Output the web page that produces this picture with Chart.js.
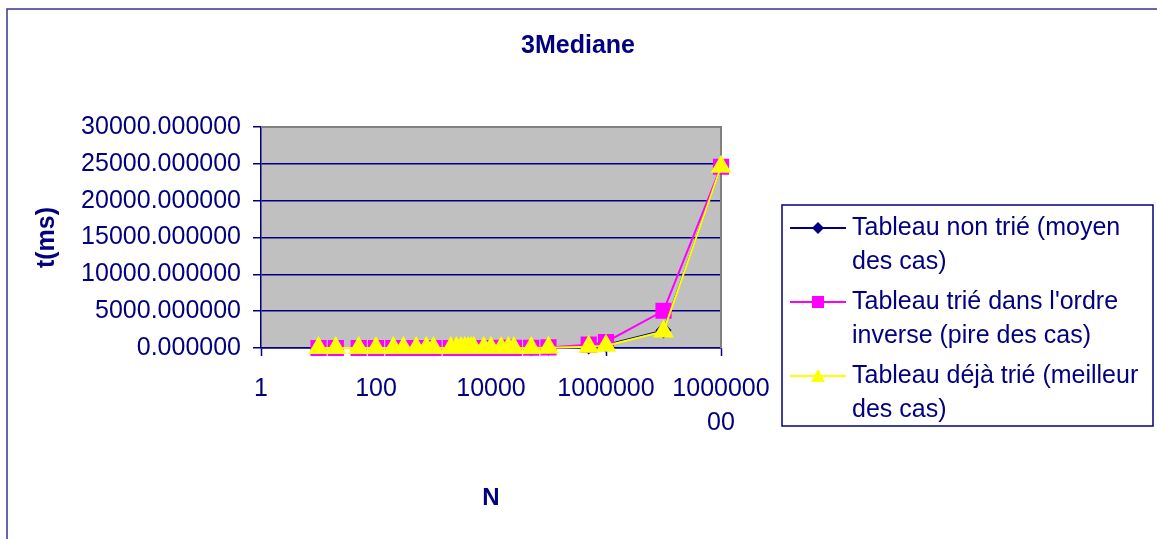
<!DOCTYPE html>
<html>
<head>
<meta charset="utf-8">
<title>3Mediane</title>
<script src="https://cdn.jsdelivr.net/npm/chart.js@4.4.0/dist/chart.umd.min.js"></script>
<style>
  body { margin: 0; background: #ffffff; }
  #zone { width: 1157px; height: 539px; }
  canvas { background: #ffffff; }
</style>
</head>
<body>
<div id="zone"><canvas id="graphique" width="1157" height="539"></canvas></div>
<script>
// tailles des tableaux (N)
const tailles = [10, 20, 50, 100, 200, 300, 500, 750, 1000, 2000, 2500, 3000, 3500, 4000, 4500, 5000,
  7500, 10000, 15000, 20000, 25000, 50000, 100000, 500000, 1000000, 10000000, 100000000];

// temps en ms
const tempsMoyen = [0.003, 0.005, 0.012, 0.025, 0.05, 0.08, 0.13, 0.2, 0.27, 0.58, 0.74, 0.9, 1.05, 1.22, 1.38, 1.55,
  2.4, 3.3, 5.1, 7.0, 8.9, 18.5, 39, 215, 460, 2400, 24600];
const tempsPire = [0.004, 0.008, 0.02, 0.04, 0.09, 0.14, 0.25, 0.38, 0.5, 1.1, 1.4, 1.7, 2.0, 2.3, 2.6, 2.9,
  4.5, 6.2, 9.6, 13, 17, 36, 78, 450, 820, 5050, 24600];
const tempsMeilleur = [0.002, 0.004, 0.009, 0.018, 0.04, 0.06, 0.1, 0.15, 0.2, 0.43, 0.55, 0.66, 0.78, 0.9, 1.02, 1.14,
  1.75, 2.4, 3.7, 5.1, 6.5, 13.6, 29, 160, 300, 2250, 24600];

const ticksX = [1, 100, 10000, 1000000, 100000000];
const ticksY = [0, 5000, 10000, 15000, 20000, 25000, 30000];

const titre = "3Mediane";
const nomsSeries = [
  ["Tableau non trié (moyen", "des cas)"],
  ["Tableau trié dans l'ordre", "inverse (pire des cas)"],
  ["Tableau déjà trié (meilleur", "des cas)"]
];

const marine = "#000080";
const police = "'Liberation Sans', Arial, sans-serif";

const points = (valeurs) => tailles.map((n, i) => ({ x: n, y: valeurs[i] }));

// fond gris, cadre, titre, légende
const decor = {
  id: "decor",
  beforeDraw(chart) {
    const ctx = chart.ctx;
    const a = chart.chartArea;
    ctx.save();
    ctx.strokeStyle = "#34349a";
    ctx.lineWidth = 1.5;
    ctx.strokeRect(7, 9, 1170, 560);
    ctx.fillStyle = "#c0c0c0";
    ctx.fillRect(a.left, a.top, a.right - a.left, a.bottom - a.top);
    ctx.fillStyle = marine;
    ctx.font = "bold 25px " + police;
    ctx.textAlign = "center";
    ctx.textBaseline = "middle";
    ctx.fillText(titre, 578, 46);
    ctx.restore();
  },
  beforeDatasetsDraw(chart) {
    const ctx = chart.ctx;
    const a = chart.chartArea;
    ctx.save();
    ctx.strokeStyle = "#808080";
    ctx.lineWidth = 2;
    ctx.beginPath();
    ctx.moveTo(a.left, a.top);
    ctx.lineTo(a.right, a.top);
    ctx.lineTo(a.right, a.bottom);
    ctx.stroke();
    ctx.restore();
  },
  afterDraw(chart) {
    const ctx = chart.ctx;
    ctx.save();
    ctx.strokeStyle = marine;
    ctx.lineWidth = 1.5;
    ctx.strokeRect(782, 205, 371, 221);
    chart.data.datasets.forEach((ds, i) => {
      const y = 228 + i * 74;
      ctx.strokeStyle = ds.borderColor;
      ctx.lineWidth = 2;
      ctx.beginPath();
      ctx.moveTo(790, y);
      ctx.lineTo(846, y);
      ctx.stroke();
      ctx.fillStyle = ds.pointBackgroundColor;
      ctx.beginPath();
      if (ds.pointStyle === "rectRot") {
        ctx.moveTo(818, y - 6); ctx.lineTo(824, y); ctx.lineTo(818, y + 6); ctx.lineTo(812, y);
      } else if (ds.pointStyle === "rect") {
        ctx.rect(812, y - 6, 12, 12);
      } else {
        ctx.moveTo(818, y - 7); ctx.lineTo(825, y + 6); ctx.lineTo(811, y + 6);
      }
      ctx.closePath();
      ctx.fill();
      ctx.fillStyle = marine;
      ctx.font = "25px " + police;
      ctx.textBaseline = "middle";
      nomsSeries[i].forEach((ligne, k) => ctx.fillText(ligne, 852, y + k * 34));
    });
    ctx.restore();
  }
};

const graf = new Chart(document.querySelector("#graphique"), {
  type: "line",
  data: {
    datasets: [
      {
        label: nomsSeries[0].join(" "),
        data: points(tempsMoyen),
        borderColor: marine, backgroundColor: marine,
        pointBackgroundColor: marine, pointBorderColor: marine,
        pointStyle: "rectRot", pointRadius: 7, borderWidth: 1.5, order: 2, clip: false
      },
      {
        label: nomsSeries[1].join(" "),
        data: points(tempsPire),
        borderColor: "#ff00ff", backgroundColor: "#ff00ff",
        pointBackgroundColor: "#ff00ff", pointBorderColor: "#ff00ff",
        pointStyle: "rect", pointRadius: 10, borderWidth: 2, order: 1, clip: false
      },
      {
        label: nomsSeries[2].join(" "),
        data: points(tempsMeilleur),
        borderColor: "#ffff00", backgroundColor: "#ffff00",
        pointBackgroundColor: "#ffff00", pointBorderColor: "#ffff00",
        pointStyle: "triangle", pointRadius: 10, borderWidth: 2, order: 0, clip: false
      }
    ]
  },
  options: {
    responsive: false,
    animation: false,
    layout: { padding: { left: 0, right: 436, top: 127, bottom: 0 } },
    plugins: {
      legend: { display: false },
      tooltip: { enabled: false },
      title: { display: false }
    },
    scales: {
      x: {
        type: "logarithmic",
        min: 1,
        max: 100000000,
        afterBuildTicks: (scale) => { scale.ticks = ticksX.map(v => ({ value: v })); },
        afterFit: (scale) => { scale.height = 191; },
        ticks: {
          autoSkip: false,
          maxRotation: 0,
          color: marine,
          padding: 16,
          font: { family: police, size: 25, lineHeight: 1.36 },
          callback: (v) => v === 100000000 ? ["1000000", "00"] : String(v)
        },
        grid: { drawOnChartArea: false, tickLength: 8, tickColor: marine, tickWidth: 1.5 },
        border: { color: marine, width: 1.5 },
        title: {
          display: true,
          text: "N",
          color: marine,
          font: { family: police, size: 24, weight: "bold" },
          padding: { top: 0, bottom: 26 }
        }
      },
      y: {
        min: 0,
        max: 30000,
        afterBuildTicks: (scale) => { scale.ticks = ticksY.map(v => ({ value: v })); },
        afterFit: (scale) => { scale.width = 261; },
        ticks: {
          color: marine,
          padding: 12,
          font: { family: police, size: 25 },
          callback: (v) => v.toFixed(6)
        },
        grid: { color: marine, lineWidth: 1.5, tickLength: 8, tickColor: marine },
        border: { color: marine, width: 1.5 },
        title: {
          display: true,
          text: "t(ms)",
          color: marine,
          font: { family: police, size: 25, weight: "bold" },
          padding: { top: 32, bottom: 0 }
        }
      }
    }
  },
  plugins: [decor]
});
</script>
</body>
</html>
